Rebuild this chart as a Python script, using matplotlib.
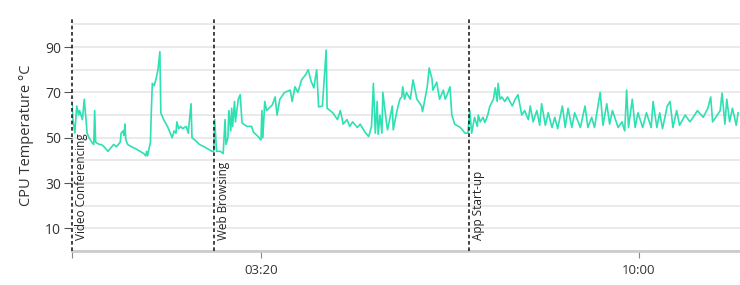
import matplotlib.pyplot as plt
from matplotlib.ticker import FuncFormatter, MultipleLocator

# elapsed seconds and CPU temperature (deg C)
times = [0, 1, 3, 5, 7, 8, 11, 13, 14, 16, 18, 21, 23, 24, 25, 29, 31, 34, 36, 38,
         40, 42, 44, 47, 49, 51, 52, 54, 55, 56, 57, 59, 63, 68, 72, 76, 78, 79, 80, 83,
         84, 85, 87, 89, 91, 93, 94, 97, 101, 104, 106, 108, 110, 111, 113, 115, 117, 121, 123, 126,
         127, 130, 135, 140, 144, 148, 150,
         151, 153, 157, 160, 162, 163, 165, 166, 168, 169, 170, 172, 173, 176, 178, 180, 185, 190,
         192, 197, 200, 201, 202, 204, 206, 212, 215, 217, 220, 225, 231, 233, 236, 239, 243, 247,
         250, 253, 256, 257, 259, 261, 265, 266, 269, 270, 273, 276, 281, 284, 287, 291, 294, 297,
         302, 305, 310, 314, 317, 319, 321, 323, 324, 326, 328, 329, 333, 334, 339, 340, 344, 347,
         349, 350, 352, 354, 358, 361, 365, 370, 371, 376, 378, 381, 382, 386, 389, 393, 395, 398,
         400, 402, 405, 411, 416, 419,
         421, 423, 426, 429, 430, 432, 435, 437, 440, 442, 446, 448, 450, 451, 453, 455, 458, 461,
         466, 469, 472, 476, 479, 483, 485, 488, 492, 495, 497, 501, 504, 508, 511, 514, 519, 522,
         525, 529, 532, 538, 543, 546, 550, 553, 559, 562, 566, 569, 572, 578, 582, 585, 587, 589,
         593, 596, 599, 604, 608, 613, 615, 619, 622, 625, 630, 633, 636, 640, 643, 649, 654, 659,
         662, 668, 673, 676, 678, 683, 686, 688, 691, 693, 696, 699, 703, 705]
temps = [65, 58, 52, 64, 60, 62, 58, 67, 62, 52, 50, 48, 47, 62, 48, 47, 47, 46, 45, 44,
         45, 46, 47, 46, 47, 48, 52, 53, 51, 56, 49, 47, 46, 45, 44, 43, 42, 44, 42, 48,
         62, 74, 73, 76, 80, 88, 61, 58, 55, 52, 50, 53, 52, 57, 54, 55, 54, 55, 52, 65,
         50, 49, 47, 46, 45, 44, 44,
         58, 44, 44, 43, 58, 47, 50, 62, 53, 63, 55, 66, 57, 67, 69, 56.5, 55, 55,
         52.5, 50.5, 49, 62, 50, 66, 62, 64.5, 68, 60, 67, 70, 71, 66, 72.5, 70, 75.5, 77.7,
         80, 75, 72, 75, 80, 63.6, 64, 70, 88.7, 63, 62, 61, 58, 62, 56, 58, 55, 57,
         54.5, 56, 52.5, 50.5, 55, 74, 52, 66, 51.5, 60, 52, 70, 56, 53.5, 64, 53.5, 62, 67,
         68, 72.5, 67, 70, 67, 75.5, 67, 64, 61.5, 72.5, 80.8, 76, 71, 74.5, 67, 71, 67, 70,
         72.5, 60, 56, 54.5, 52, 52,
         62, 52, 59, 55, 60, 57, 59, 56.7, 60, 63.6, 67, 72, 66, 74, 67, 68, 66, 68,
         64, 67, 69, 60, 62, 58, 64, 57, 62, 55.5, 65, 55.5, 61, 54.5, 59, 54, 64, 54.5,
         63, 54.5, 61, 54.5, 64, 54.5, 59, 54.5, 70, 55.5, 65, 56, 62, 54.5, 57, 53, 71, 54.5,
         67, 54.5, 61, 54.5, 61, 54.5, 66, 54.5, 61, 54, 64, 66, 54.5, 62, 55.5, 60, 57, 60,
         62, 59, 63, 68, 57, 60, 62, 69.7, 56, 67, 57, 63, 55.5, 61]

event_times = [0, 150, 420]
event_labels = ['Video Conferencing', 'Web Browsing', 'App Start-up']

x_ticks = [0, 200, 600]
y_ticks = [10, 30, 50, 70, 90]


def mmss(s, pos):
    if s == 0:
        return ''
    return '%02d:%02d' % (int(s) // 60, int(s) % 60)


plt.rcParams['font.family'] = ['Open Sans', 'DejaVu Sans']

fig = plt.figure(figsize=(7.4, 2.85), dpi=100)
ax = fig.add_axes([72 / 740, 34 / 285, 1 - 72 / 740, 232 / 285])

ax.plot(times, temps, color='#2fe0b2', linewidth=1.2, zorder=3)

for t, lab in zip(event_times, event_labels):
    ax.axvline(t, color='#222222', linestyle=(0, (2.2, 1.6)), linewidth=1.2,
               zorder=4, clip_on=False)
    ax.text(t + 3, 5, lab, rotation=90, ha='left', va='bottom',
            fontsize=8.5, color='#222222', zorder=5)

ax.set_xlim(0, 707)
ax.set_ylim(0, 102.4)

ax.set_yticks(y_ticks)
ax.yaxis.set_minor_locator(MultipleLocator(10))
ax.grid(axis='y', which='both', color='#e6e6e6', linewidth=1.2, zorder=0)
ax.tick_params(axis='y', which='minor', length=0)
ax.tick_params(axis='y', which='major', length=6, width=0.8, color='#555555',
               labelsize=10, labelcolor='#333333', pad=2)

ax.set_xticks(x_ticks)
ax.xaxis.set_major_formatter(FuncFormatter(mmss))
ax.tick_params(axis='x', length=5, width=0.8, color='#888888',
               labelsize=9.5, labelcolor='#333333', pad=4)

for side in ['top', 'right', 'left']:
    ax.spines[side].set_visible(False)
ax.spines['bottom'].set_color('#cccccc')
ax.spines['bottom'].set_linewidth(2)

ax.set_ylabel('CPU Temperature °C', fontsize=10.5, color='#333333', labelpad=8)

plt.savefig('out.png', dpi=100)
